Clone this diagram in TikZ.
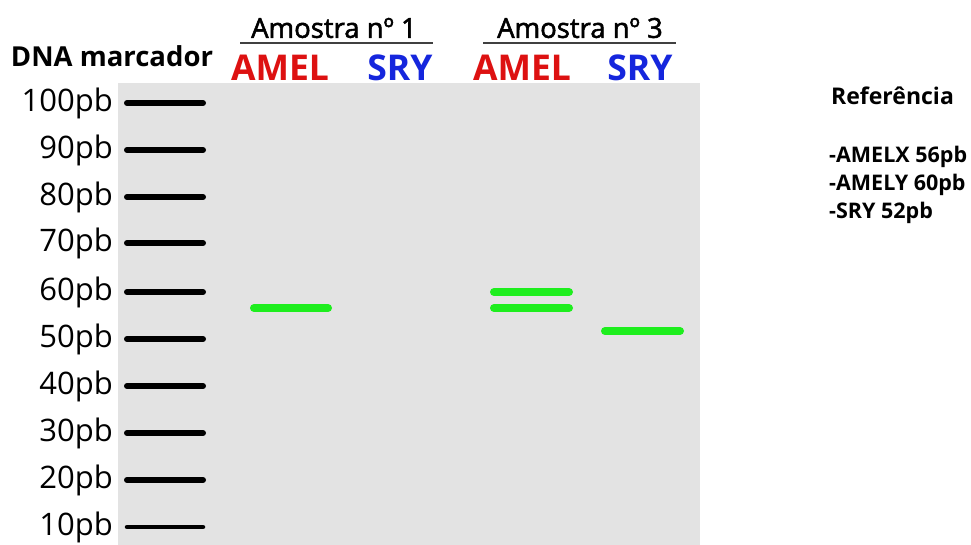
\documentclass[tikz,border=0pt]{standalone}
\usepackage{fontspec}
\setmainfont{Open Sans}
\newfontfamily\medfont[FakeBold=2]{Open Sans}
\definecolor{gel}{HTML}{E3E3E3}
\definecolor{band}{HTML}{1EEE1E}
\definecolor{amelred}{HTML}{DD1111}
\definecolor{sryblue}{HTML}{1526DD}
\begin{document}
\begin{tikzpicture}[x=1pt,y=-1pt,
  ladder/.style={line width=6pt,line cap=round,black},
  greenband/.style={line width=8pt,line cap=round,band},
  lbl/.style={anchor=east,inner sep=0pt,font=\fontsize{31}{31}\selectfont},
  head/.style={inner sep=0pt,font=\fontsize{27.5}{27.5}\medfont},
  gene/.style={inner sep=0pt,font=\fontsize{35.5}{35.5}\selectfont\bfseries},
  refs/.style={anchor=west,inner sep=0pt,font=\fontsize{21.5}{21.5}\selectfont\bfseries}]
\useasboundingbox (0,0) rectangle (971,545);
\fill[white] (0,0) rectangle (971,545);
\fill[gel] (118,83) rectangle (700,545);
% ladder
\foreach \v/\y in {100/103,90/150,80/197,70/243,60/292,50/339,40/386,30/433,20/480,10/527}{
  \coordinate (l\v a) at (127,\y);
  \coordinate (l\v b) at (203,\y);
  \node[lbl] (t\v) at (113,\y) {\v pb};
}
\foreach \v in {100,90,80,70,60,50,40,30,20}{\draw[ladder] (l\v a) -- (l\v b);}
\draw[ladder,line width=4.5pt] (l10a) -- (l10b);
% green bands
\coordinate (a1s) at (254,308); \coordinate (a1e) at (328,308);
\coordinate (a3s) at (494,292); \coordinate (a3e) at (569,292);
\coordinate (a3t) at (494,308); \coordinate (a3u) at (569,308);
\coordinate (s3s) at (605,331); \coordinate (s3e) at (680,331);
\draw[greenband] (a1s) -- (a1e);
\draw[greenband] (a3s) -- (a3e);
\draw[greenband] (a3t) -- (a3u);
\draw[greenband] (s3s) -- (s3e);
% headers
\node[inner sep=0pt,font=\fontsize{27.5}{27.5}\selectfont\bfseries] (dna) at (112,56) {DNA marcador};
\node[head] (am1) at (334,28) {Amostra nº 1};
\node[head] (am3) at (580,28) {Amostra nº 3};
\coordinate (u1a) at (240,43); \coordinate (u1b) at (433,43);
\coordinate (u3a) at (483,43); \coordinate (u3b) at (676,43);
\draw[line width=1.2pt,black!75] (u1a) -- (u1b);
\draw[line width=1.2pt,black!75] (u3a) -- (u3b);
\node[gene,text=amelred] (g1) at (280,68) {AMEL};
\node[gene,text=sryblue] (g2) at (400,68) {SRY};
\node[gene,text=amelred] (g3) at (522,68) {AMEL};
\node[gene,text=sryblue] (g4) at (640,68) {SRY};
% reference
\node[refs,font=\fontsize{23}{23}\selectfont\bfseries] (ref) at (831,96) {Referência};
\node[refs] (r1) at (829,157) {-AMELX 56pb};
\node[refs] (r2) at (829,185) {-AMELY 60pb};
\node[refs] (r3) at (829,213) {-SRY 52pb};
\end{tikzpicture}
\end{document}
